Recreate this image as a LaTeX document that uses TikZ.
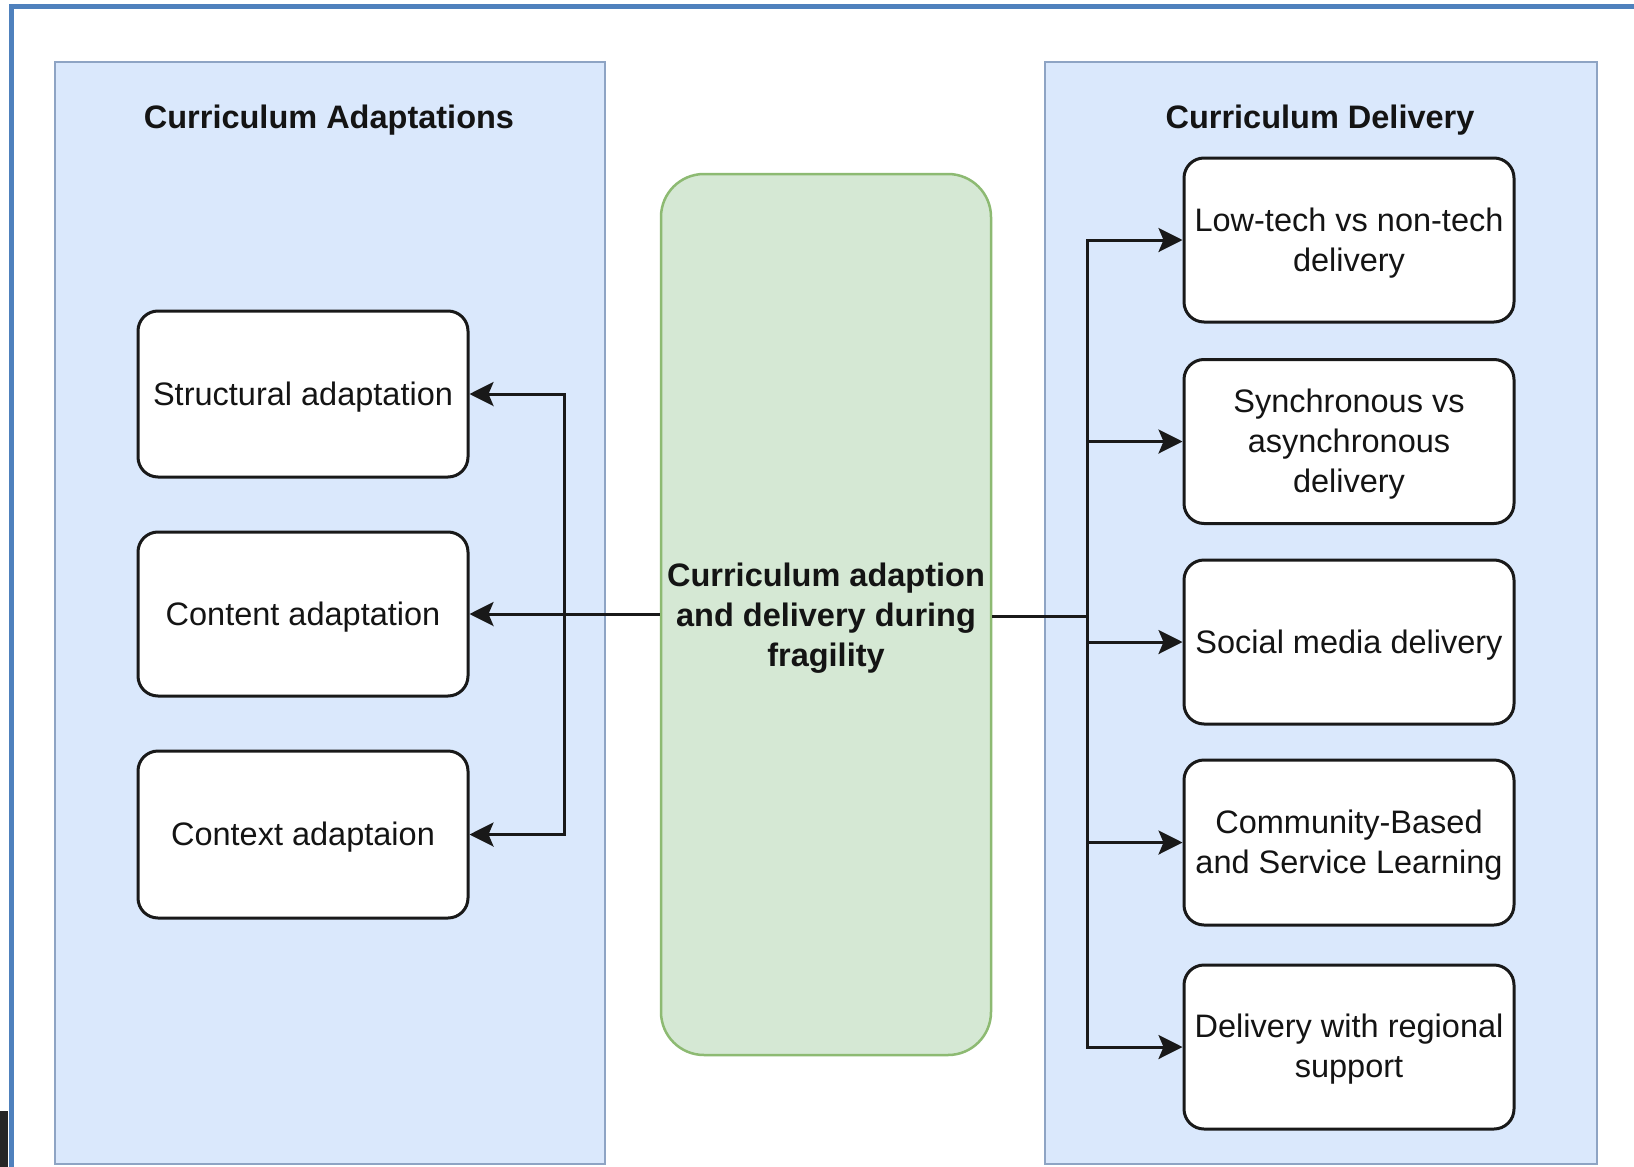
\documentclass[tikz,border=0pt]{standalone}
\usepackage{fontspec}
\setmainfont{Liberation Sans}
\usetikzlibrary{arrows.meta}
\definecolor{panelfill}{HTML}{DAE8FC}
\definecolor{panelborder}{HTML}{8EA4C4}
\definecolor{greenfill}{HTML}{D5E8D4}
\definecolor{greenborder}{HTML}{8DBA72}
\definecolor{frameblue}{HTML}{4F81BD}
\definecolor{txt}{HTML}{141414}
\tikzset{
  panel/.style={draw=panelborder, fill=panelfill, line width=2pt, inner sep=0pt},
  itembox/.style={draw=black!90, fill=white, line width=3pt, rounded corners=20pt,
    minimum width=330pt, minimum height=164pt, inner sep=0pt},
  itemtext/.style={align=center, inner sep=0pt,
    font=\fontsize{32.5}{40}\selectfont, text=txt},
  centerbox/.style={draw=greenborder, fill=greenfill, line width=2.5pt, rounded corners=43pt,
    minimum width=330pt, minimum height=881pt, inner sep=0pt},
  centertext/.style={align=center, inner sep=0pt,
    font=\fontsize{32.5}{40}\selectfont\bfseries, text=txt},
  paneltitle/.style={font=\fontsize{32.5}{40}\selectfont\bfseries, text=txt, inner sep=0pt},
  conn/.style={draw=black!90, line width=3pt, line join=miter},
  tip/.tip={Stealth[length=24pt, width=24pt, inset=5pt]}
}
\begin{document}
\begin{tikzpicture}[x=1pt,y=-1pt]
\useasboundingbox (0,0) rectangle (1634,1167);
\fill[white] (0,0) rectangle (1634,1167);
% outer frame (cut at right and bottom)
\draw[frameblue, line width=5pt] (11.5,1167) -- (11.5,6.5) -- (1634,6.5);
\fill[black!85] (0,1111) rectangle (8,1167);

% panels
\node[panel, minimum width=550pt, minimum height=1102pt] (lp) at (330,613) {};
\node[panel, minimum width=552pt, minimum height=1102pt] (rp) at (1321,613) {};
\node[paneltitle] (lt) at (329,120) {Curriculum Adaptations};
\node[paneltitle] (rt) at (1320,120) {Curriculum Delivery};

% centre
\node[centerbox] (g) at (826,614.5) {};
\node[centertext] (gt) at ([yshift=-4pt]g.center) {Curriculum adaption\\and delivery during\\fragility};

% left boxes
\node[itembox, minimum height=166pt] (s) at (303,394) {};
\node[itembox] (c) at (303,614) {};
\node[itembox, minimum height=167pt] (x) at (303,834.5) {};
\node[itemtext] (st) at ([yshift=-3pt]s.center) {Structural adaptation};
\node[itemtext] (ct) at ([yshift=-3pt]c.center) {Content adaptation};
\node[itemtext] (xt) at ([yshift=-3pt]x.center) {Context adaptaion};

% right boxes
\node[itembox] (r1) at (1349,240) {};
\node[itembox] (r2) at (1349,441.5) {};
\node[itembox] (r3) at (1349,642) {};
\node[itembox, minimum height=165pt] (r4) at (1349,842.5) {};
\node[itembox] (r5) at (1349,1047) {};
\node[itemtext] (r1t) at ([yshift=-3pt]r1.center) {Low-tech vs non-tech\\delivery};
\node[itemtext] (r2t) at ([yshift=-3pt]r2.center) {Synchronous vs\\asynchronous\\delivery};
\node[itemtext] (r3t) at ([yshift=-3pt]r3.center) {Social media delivery};
\node[itemtext] (r4t) at ([yshift=-3pt]r4.center) {Community-Based\\and Service Learning};
\node[itemtext] (r5t) at ([yshift=-2pt]r5.center) {Delivery with regional\\support};

% left connectors
\coordinate (lb) at (564,614);
\draw[conn, {tip}-{tip}] (s.east) -- (lb |- s.east) -- (lb |- x.east) -- (x.east);
\draw[conn, -{tip}] (g.west |- c.east) -- (c.east);

% right connectors
\coordinate (rb) at (1087,616);
\draw[conn] (g.east |- rb) -- (rb);
\draw[conn, {tip}-{tip}] (r1.west) -- (rb |- r1.west) -- (rb |- r5.west) -- (r5.west);
\draw[conn, -{tip}] (rb |- r2.west) -- (r2.west);
\draw[conn, -{tip}] (rb |- r3.west) -- (r3.west);
\draw[conn, -{tip}] (rb |- r4.west) -- (r4.west);
\end{tikzpicture}
\end{document}
